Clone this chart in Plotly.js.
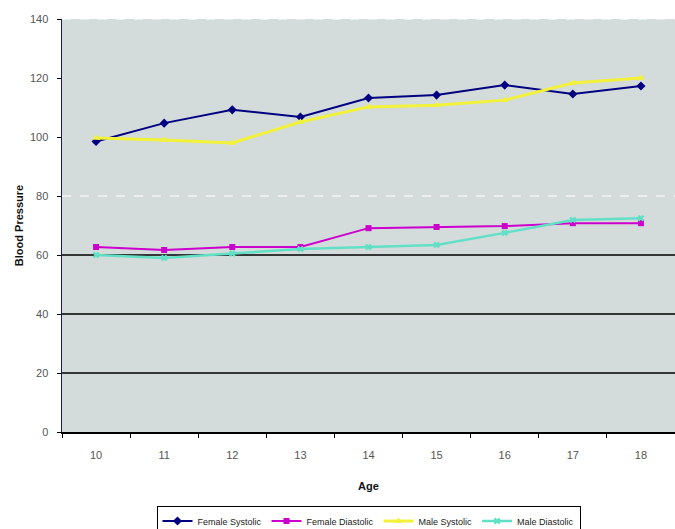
<!DOCTYPE html>
<html>
<head>
<meta charset="utf-8">
<script src="https://cdn.plot.ly/plotly-3.0.1.min.js"></script>
<style>html,body{margin:0;padding:0;background:#fff;}#chart{width:675px;height:529px;}</style>
</head>
<body>
<div id="chart"></div>
<script>
const ages = ['10', '11', '12', '13', '14', '15', '16', '17', '18'];
const femaleSystolic = [98.5, 104.7, 109.2, 106.8, 113.2, 114.2, 117.6, 114.6, 117.3];
const femaleDiastolic = [62.7, 61.7, 62.7, 62.7, 69.1, 69.5, 69.8, 70.8, 70.8];
const maleSystolic = [99.7, 99.0, 98.0, 105.1, 110.2, 110.8, 112.5, 118.3, 120.0];
const maleDiastolic = [60.0, 59.0, 60.5, 62.0, 62.7, 63.4, 67.5, 71.9, 72.5];
const seriesNames = ['Female Systolic', 'Female Diastolic', 'Male Systolic', 'Male Diastolic'];
const yTicks = [0, 20, 40, 60, 80, 100, 120, 140];

const traces = [
  {x: ages, y: femaleSystolic, name: seriesNames[0], type: 'scatter', mode: 'lines+markers',
   line: {color: '#000080', width: 2}, marker: {symbol: 'diamond', size: 7, color: '#000080'}},
  {x: ages, y: femaleDiastolic, name: seriesNames[1], type: 'scatter', mode: 'lines+markers',
   line: {color: '#cc00cc', width: 2}, marker: {symbol: 'square', size: 6, color: '#cc00cc'}},
  {x: ages, y: maleSystolic, name: seriesNames[2], type: 'scatter', mode: 'lines+markers',
   line: {color: '#f2f23a', width: 3}, marker: {symbol: 'triangle-up', size: 7, color: '#f2f23a'}},
  {x: ages, y: maleDiastolic, name: seriesNames[3], type: 'scatter', mode: 'lines+markers',
   line: {color: '#62e0c6', width: 2.5}, marker: {symbol: 'x', size: 6, color: '#62e0c6'}}
];

const shapes = [];
[20, 40, 60].forEach(v => shapes.push({type: 'line', xref: 'paper', x0: 0, x1: 1, yref: 'y', y0: v, y1: v,
  line: {color: '#000000', width: 1.5}, layer: 'below'}));
[80, 140].forEach(v => shapes.push({type: 'line', xref: 'paper', x0: 0, x1: 1, yref: 'y', y0: v, y1: v,
  line: {color: '#f4f4f4', width: 1.5, dash: 'dash'}, layer: 'below'}));

const layout = {
  width: 675, height: 529,
  margin: {l: 62, r: 0, t: 19, b: 97, autoexpand: false},
  paper_bgcolor: '#ffffff',
  plot_bgcolor: '#d4dbdb',
  font: {family: 'Liberation Sans, Arial, sans-serif', size: 10, color: '#333333'},
  showlegend: true,
  legend: {orientation: 'h', x: 0.5, xanchor: 'center', y: -0.178, yanchor: 'top',
    bordercolor: '#000000', borderwidth: 1, bgcolor: '#ffffff',
    font: {size: 9, color: '#222222'}, itemwidth: 30, tracegroupgap: 0},
  xaxis: {
    type: 'category', range: [-0.5, 8.5], tickson: 'boundaries', automargin: false,
    ticks: 'outside', ticklen: 4, tickcolor: '#000000',
    showline: true, linecolor: '#000000', linewidth: 1.5,
    showgrid: false, zeroline: false, ticklabelstandoff: 12,
    tickfont: {size: 11, color: '#555555'},
    title: {text: '<b>Age</b>', font: {size: 11, color: '#111111'}, standoff: 22}
  },
  yaxis: {
    range: [0, 140], tickvals: yTicks, ticktext: yTicks.map(String), automargin: false,
    ticks: 'outside', ticklen: 4, tickcolor: '#000000',
    showline: true, linecolor: '#1a1a6e', linewidth: 1.5,
    showgrid: false, zeroline: false, ticklabelstandoff: 6,
    tickfont: {size: 11, color: '#555555'},
    title: {text: '<b>Blood Pressure</b>', font: {size: 11, color: '#111111'}, standoff: 4}
  },
  shapes: shapes
};

Plotly.newPlot('chart', traces, layout, {displayModeBar: false, staticPlot: true});
</script>
</body>
</html>
